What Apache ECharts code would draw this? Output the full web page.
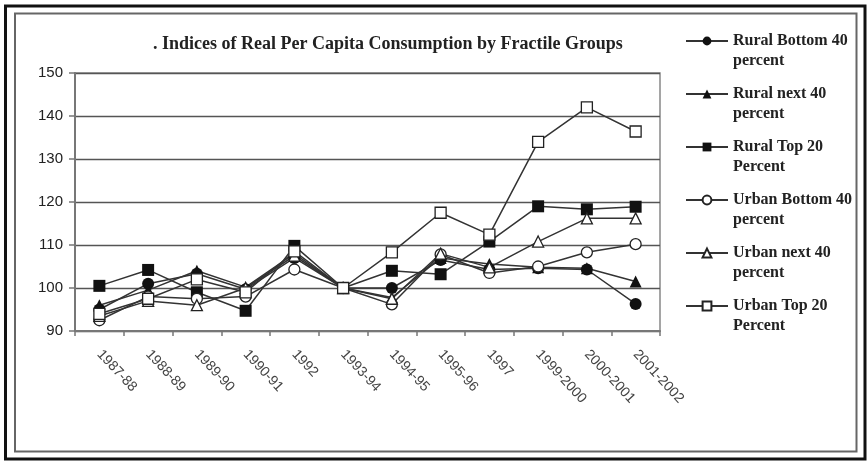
<!DOCTYPE html>
<html>
<head>
<meta charset="utf-8">
<script src="https://cdn.jsdelivr.net/npm/echarts@6/dist/echarts.min.js"></script>
<style>
    html, body { margin: 0; padding: 0; background: #fff; }
    #chart { width: 867px; height: 463px; }
</style>
</head>
<body>
<div id="chart"></div>
<script>
// years on the x axis
const categories = ["1987-88", "1988-89", "1989-90", "1990-91", "1992", "1993-94",
    "1994-95", "1995-96", "1997", "1999-2000", "2000-2001", "2001-2002"];

// index values (1993-94 = 100)
const ruralBottom40 = [95, 101, 103.3, 99.7, 107, 100, 100, 106.5, 104.3, 104.6, 104.3, 96.3];
const ruralNext40 = [96, 99.5, 104, 100.2, 108, 100, 97.8, 107, 105.6, 104.8, 104.6, 101.5];
const ruralTop20 = [100.5, 104.2, 99, 94.7, 109.8, 100, 104, 103.2, 110.8, 119, 118.3, 118.9];
const urbanBottom40 = [92.5, 98, 97.5, 98, 104.3, 100, 96.2, 107.8, 103.5, 105, 108.3, 110.2];
const urbanNext40 = [93.5, 97, 96, 100, 107.5, 100, 97.5, 108, 104.8, 110.8, 116.2, 116.2];
const urbanTop20 = [94, 97.5, 102, 99, 108.5, 100, 108.3, 117.5, 112.4, 134, 142, 136.4];

const yTicks = { min: 90, max: 150, step: 10 };

const serifFont = "'Liberation Serif', 'Times New Roman', serif";
const sansFont = "'Liberation Sans', Arial, sans-serif";

const chart = echarts.init(document.getElementById("chart"));

// builds one line series, open markers get a white fill
const makeSeries = (name, data, symbol, open) => ({
    name: name,
    type: "line",
    data: data,
    symbol: symbol,
    symbolSize: open ? 11 : 12,
    showSymbol: true,
    lineStyle: { color: "#333", width: 1.5 },
    itemStyle: open
        ? { color: "#fff", borderColor: "#222", borderWidth: 1.3 }
        : { color: "#111", borderColor: "#111", borderWidth: 0 },
    emphasis: { disabled: true },
    animation: false
});

const option = {
    animation: false,
    backgroundColor: "#fff",
    title: {
        text: ". Indices of Real Per Capita Consumption by Fractile Groups",
        left: 153,
        top: 35,
        padding: 0,
        textStyle: { fontFamily: serifFont, fontWeight: "bold", fontSize: 18, color: "#222" }
    },
    legend: {
        orient: "vertical",
        left: 685,
        top: 11,
        padding: 0,
        itemWidth: 42,
        itemHeight: 11,
        itemGap: -7,
        selectedMode: false,
        // empty first line so the icon sits level with the first text line
        formatter: (name) => "\n" + name.replace(/ (percent|Percent)$/, "\n$1"),
        textStyle: {
            fontFamily: serifFont,
            fontWeight: "bold",
            fontSize: 16,
            color: "#222",
            lineHeight: 20
        }
    },
    grid: {
        left: 75,
        right: 207,
        top: 73,
        bottom: 132,
        show: true,
        borderColor: "#888",
        borderWidth: 1.5
    },
    xAxis: {
        type: "category",
        data: categories,
        boundaryGap: true,
        axisLine: { lineStyle: { color: "#777", width: 2 } },
        axisTick: { show: true, length: 5, lineStyle: { color: "#777", width: 1.5 } },
        axisLabel: {
            interval: 0,
            rotate: -47,
            margin: 21,
            fontFamily: sansFont,
            fontSize: 14,
            color: "#444"
        }
    },
    yAxis: {
        type: "value",
        min: yTicks.min,
        max: yTicks.max,
        interval: yTicks.step,
        axisLine: { show: true, lineStyle: { color: "#777", width: 2 } },
        axisTick: { show: true, length: 6, lineStyle: { color: "#777", width: 1.5 } },
        axisLabel: { margin: 12, fontFamily: sansFont, fontSize: 15, color: "#222" },
        splitLine: { lineStyle: { color: "#555", width: 1.3 } }
    },
    graphic: [
        // outer black frame and inner grey frame of the figure
        { type: "rect", shape: { x: 5.5, y: 6, width: 859.5, height: 453 }, style: { fill: "none", stroke: "#111", lineWidth: 3 }, silent: true },
        { type: "rect", shape: { x: 15, y: 13.5, width: 841.5, height: 438 }, style: { fill: "none", stroke: "#666", lineWidth: 2 }, silent: true }
    ],
    series: [
        makeSeries("Rural Bottom 40 percent", ruralBottom40, "circle", false),
        makeSeries("Rural next 40 percent", ruralNext40, "triangle", false),
        makeSeries("Rural Top 20 Percent", ruralTop20, "rect", false),
        makeSeries("Urban Bottom 40 percent", urbanBottom40, "circle", true),
        makeSeries("Urban next 40 percent", urbanNext40, "triangle", true),
        makeSeries("Urban Top 20 Percent", urbanTop20, "rect", true)
    ]
};

chart.setOption(option);
</script>
</body>
</html>
